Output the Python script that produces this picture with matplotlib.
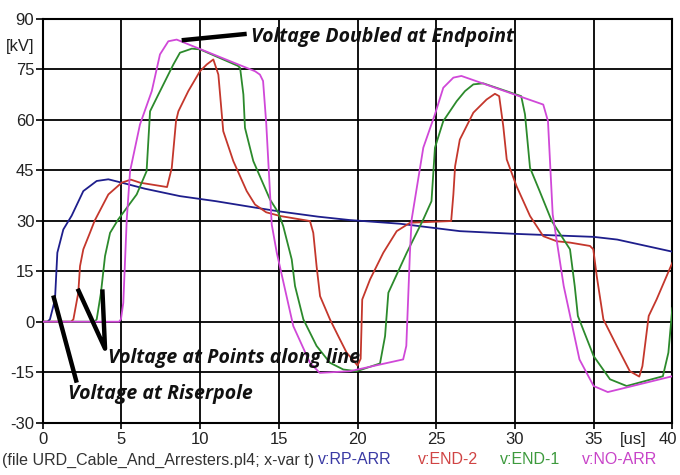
import matplotlib
matplotlib.use('Agg')
import matplotlib.pyplot as plt
import matplotlib.transforms as mtransforms
import numpy as np

plt.rcParams['axes.unicode_minus'] = False

# Data (time in us, voltage in kV)
t_rp = [0, 0.3, 0.46, 0.78, 0.93, 1.31, 1.84, 2.58, 3.43, 4.17, 5.02, 6.5, 8.72, 11.0,
        13.49, 14.97, 17.5, 19.5, 22.7, 26.5, 30.0, 35.0, 36.5, 40.0]
v_rp = [0, 0, 0.7, 6.6, 20.5, 27.4, 31.5, 38.8, 41.8, 42.3, 41.3, 39.5, 37.3, 35.8,
        33.9, 32.8, 31.2, 30.2, 29.1, 26.9, 26.1, 25.2, 24.4, 20.8]

t_end2 = [0, 1.8, 1.95, 2.26, 2.37, 2.58, 3.0, 3.3, 4.17, 5.02, 5.6, 6.18, 7.9, 8.2,
          8.47, 8.62, 9.25, 9.99, 10.42, 10.84, 11.16, 11.47, 12.11, 12.96, 13.49, 14.2,
          15.08, 16.98, 17.19, 17.4, 17.62, 18.25, 18.78, 19.31, 20.0, 20.2, 20.3, 20.8,
          21.64, 22.49, 23.34, 25.95, 26.09, 26.2, 26.5, 27.36, 28.2, 28.73, 29.0, 29.26,
          29.48, 30.1, 30.96, 31.8, 32.66, 33.5, 34.77, 34.98, 35.2, 35.62, 36.47, 37.3,
          37.9, 38.1, 38.5, 39.0, 40.0]
v_end2 = [0, 0, 0.7, 8.6, 16.5, 21.5, 26.4, 30.0, 37.8, 41.3, 42.2, 41.3, 40.0, 45.7,
          59.6, 62.5, 68.5, 74.4, 76.4, 77.9, 73.4, 56.6, 47.7, 38.8, 34.8, 32.5,
          31.4, 29.9, 26.4, 16.5, 7.6, 0.7, -4.3, -9.2, -13.0, -11.0, 6.6, 12.6,
          20.5, 26.9, 29.4, 29.9, 37.8, 46.2, 54.1, 62.1, 66.0, 67.7, 67.0, 58.1,
          48.2, 40.3, 31.4, 25.4, 23.9, 23.5, 22.5, 21.5, 13.5, 0.7, -7.2, -14.7,
          -16.3, -13.2, 1.7, 6.6, 17.5]

t_end1 = [0, 3.3, 3.43, 3.70, 3.96, 4.28, 4.8, 5.97, 6.6, 6.82, 7.35, 8.3, 8.72, 9.47,
          9.99, 12.4, 12.54, 12.75, 12.85, 13.38, 14.44, 14.97, 15.28, 15.82, 16.03,
          16.56, 17.4, 18.25, 19.1, 19.95, 21.43, 21.75, 21.96, 23.13, 24.18, 24.7,
          24.92, 25.45, 26.3, 26.83, 27.36, 27.99, 30.4, 30.64, 30.96, 31.57, 32.34,
          33.5, 33.8, 34.0, 35.0, 36.04, 37.1, 39.4, 39.75, 40.0]
v_end1 = [0, 0, 0.7, 8.6, 19.5, 26.4, 30.4, 37.8, 44.7, 62.5, 67.5, 76.4, 79.9, 81.1,
          80.9, 76.0, 75.4, 67.5, 57.6, 47.7, 36.3, 32.4, 28.4, 18.5, 10.6,
          0.7, -7.2, -12.2, -14.2, -14.7, -12.4, -4.3, 8.6, 20.5, 30.4, 35.8,
          51.7, 59.6, 65.5, 68.5, 70.5, 70.8, 67.0, 61.6, 45.7, 38.8, 29.9,
          21.5, 10.6, 1.7, -10.2, -17.1, -19.1, -16.2, -9.2, 4.0]

t_noarr = [0, 4.85, 4.97, 5.12, 5.34, 5.55, 6.18, 6.93, 7.45, 7.98, 8.51, 13.49, 13.8,
           14.0, 14.2, 14.55, 14.87, 15.92, 16.98, 17.6, 19.52, 22.9, 23.1, 23.33,
           23.44, 24.18, 24.92, 25.45, 26.09, 26.6, 31.8, 32.1, 32.4, 33.1, 34.1, 35.0,
           35.9, 40.0]
v_noarr = [0, 0, 0.7, 5.6, 30.4, 44.7, 58.6, 68.5, 79.4, 83.3, 83.8, 74.4, 73.4,
           71.5, 59.0, 28.9, 20.5, -1.3, -12.2, -15.2, -14.7, -11.2, -7.2, 20.5,
           30.4, 51.7, 61.6, 69.5, 72.5, 73.0, 64.5, 59.6, 31.9, 10.6, -11.2, -19.1,
           -20.9, -16.2]

series = [
    (t_rp, v_rp, '#1e1e8c', '#3a3aa4', 'v:RP-ARR'),
    (t_end2, v_end2, '#c4372c', '#d04444', 'v:END-2'),
    (t_end1, v_end1, '#2c8a2c', '#3d9a3d', 'v:END-1'),
    (t_noarr, v_noarr, '#d048d8', '#c844c8', 'v:NO-ARR'),
]
legend_x = [0.4676, 0.6147, 0.735, 0.856]

xticks = np.arange(0, 41, 5)
yticks = np.arange(-30, 91, 15)

fig = plt.figure(figsize=(6.8, 4.75), dpi=100)
ax = fig.add_axes([0.0628, 0.1101, 0.9259, 0.8505])

for t, v, c, _, _ in series:
    ax.plot(t, v, color=c, lw=1.3, zorder=3)

ax.set_xlim(0, 40)
ax.set_ylim(-30, 90)
ax.set_xticks(xticks)
ax.set_yticks(yticks)
ax.grid(True, color='black', lw=1.3)
ax.set_axisbelow(True)
for s in ax.spines.values():
    s.set_color('black')
    s.set_linewidth(1.5)

tick_font = 'Liberation Sans'
ax.tick_params(axis='x', length=4, width=1.2, pad=3, labelsize=12)
ax.tick_params(axis='y', length=5, width=1.2, pad=1, labelsize=12)
for lab in ax.get_xticklabels() + ax.get_yticklabels():
    lab.set_family(tick_font)
    lab.set_color('#222222')

# last x label sits right at the figure edge; nudge it so it stays inside
last = ax.get_xticklabels()[-1]
last.set_transform(last.get_transform() +
                   mtransforms.ScaledTranslation(-4 / 100, 0, fig.dpi_scale_trans))

fig.text(0.029, 0.903, '[kV]', ha='center', va='center', fontsize=12,
         family=tick_font, color='#222222')
fig.text(0.931, 0.0737, '[us]', ha='center', va='center', fontsize=12,
         family=tick_font, color='#222222')

# footer line
fig.text(0.003, 0.0316, '(file URD_Cable_And_Arresters.pl4; x-var t)', ha='left',
         va='center', fontsize=11.5, family=tick_font, color='#333333')
for (t, v, c, tc, name), lx in zip(series, legend_x):
    fig.text(lx, 0.0316, name, ha='left', va='center', fontsize=11.5,
             family=tick_font, color=tc)

# annotations with hand-drawn pointer lines
ann_font = dict(family='Open Sans', weight='bold', style='italic', fontsize=14,
                color='#111111')
ax.plot([8.83, 12.96], [83.6, 85.5], color='black', lw=3.2, zorder=4,
        solid_capstyle='butt')
ax.text(13.23, 84.7, 'Voltage Doubled at Endpoint', ha='left', va='center',
        zorder=5, **ann_font)

ax.plot([2.22, 3.96, 3.79], [9.8, -8.0, 9.6], color='black', lw=3.2, zorder=4,
        solid_capstyle='butt')
ax.text(4.17, -10.7, 'Voltage at Points along line', ha='left', va='center',
        zorder=5, **ann_font)

ax.plot([0.67, 2.16], [7.8, -18.1], color='black', lw=3.2, zorder=4,
        solid_capstyle='butt')
ax.text(1.63, -21.6, 'Voltage at Riserpole', ha='left', va='center',
        zorder=5, **ann_font)

fig.savefig('out.png', dpi=100)
